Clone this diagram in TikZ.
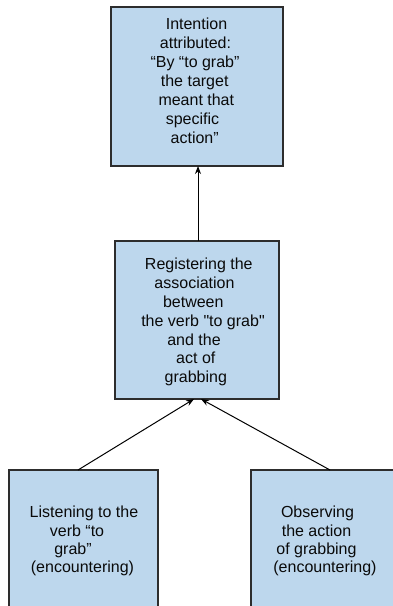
\documentclass[tikz,border=0pt]{standalone}
\usepackage{fontspec}
\setmainfont{Liberation Sans}[Ligatures=TeXOff]
\usetikzlibrary{arrows.meta}
\definecolor{boxfill}{RGB}{189,215,237}
\definecolor{boxline}{RGB}{45,45,45}
\definecolor{txt}{RGB}{10,10,10}
\newcommand{\bt}[5]{\parbox[c][#2][t]{#1}{\fontsize{16}{#4}\selectfont\centering\vspace*{#3}\strut #5\par}}
\begin{document}
\begin{tikzpicture}[x=1pt,y=-1pt,
  box/.style={draw=boxline,line width=1.2pt,fill=boxfill,inner sep=0pt,outer sep=0pt,text=txt},
  arr/.style={line width=1pt,-{Stealth[length=8pt,width=6pt]}}]
\useasboundingbox (0,0) rectangle (393,606);
\begin{scope}
\clip (0,0) rectangle (393,606);
\node[box] (top) at (197,86.5) {\bt{172pt}{159pt}{9pt}{19pt}{%
\hspace*{-1pt}Intention\\
\hspace*{-3pt}attributed:\\
\hspace*{-4pt}“By “to grab”\\
\hspace*{-4.6pt}the target\\
\hspace*{-1.4pt}meant that\\
\hspace*{-9pt}specific\\
\hspace*{-4.6pt}action”}};
\node[box] (mid) at (197,320) {\bt{164pt}{158pt}{15.8pt}{18.8pt}{%
\hspace*{3.6pt}Registering the\\
\hspace*{-5pt}association\\
\hspace*{-7.4pt}between\\
\hspace*{12pt}the verb "to grab"\\
\hspace*{-6pt}and the\\
\hspace*{-2.4pt}act of\\
\hspace*{-2.4pt}grabbing}};
\node[box] (lb) at (83.5,547.5) {\bt{149pt}{155pt}{34.9pt}{18.3pt}{%
\hspace*{1pt}Listening to the\\
\hspace*{-13pt}verb “to\\
\hspace*{-21pt}grab”\\
\hspace*{-2pt}(encountering)}};
\node[box] (rb) at (328,547.5) {\bt{154pt}{155pt}{34.9pt}{18.3pt}{%
\hspace*{-21pt}Observing\\
\hspace*{-23pt}the action\\
\hspace*{-23pt}of grabbing\\
\hspace*{-6pt}(encountering)}};
\draw[arr] ([xshift=1pt]mid.north) -- ([xshift=1pt]top.south);
\draw[arr] ([xshift=69pt]lb.north west) -- ([xshift=-3pt]mid.south);
\draw[arr] ([xshift=79pt]rb.north west) -- ([xshift=4pt]mid.south);
\end{scope}
\end{tikzpicture}
\end{document}
